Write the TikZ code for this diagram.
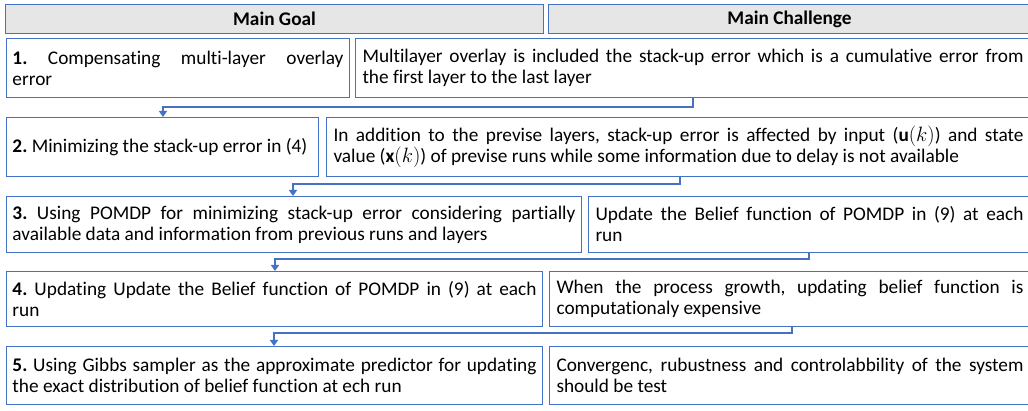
\documentclass[tikz,border=0pt]{standalone}
\usepackage{fontspec}
\setmainfont{Carlito}[Ligatures=NoCommon]
\usetikzlibrary{arrows.meta}
\definecolor{bdr}{RGB}{68,114,196}
\definecolor{hdr}{RGB}{231,230,230}
\hyphenpenalty=10000
\exhyphenpenalty=10000
\tolerance=10000
\frenchspacing
\begin{document}
\begin{tikzpicture}[x=1pt,y=-1pt,
  box/.style={draw=bdr, line width=1pt, anchor=north west, inner ysep=0pt, align=justify,
    font=\fontsize{19.3}{21}\selectfont\frenchspacing},
  lbox/.style={box, inner xsep=6pt},
  rbox/.style={box, inner xsep=7pt},
  hbox/.style={draw=bdr, line width=1pt, fill=hdr, anchor=north west, inner sep=0pt,
    font=\fontsize{19.3}{21}\selectfont\bfseries},
  conn/.style={draw=bdr, line width=2pt, -{Triangle[length=6pt,width=8pt]}}]
\useasboundingbox (0,0) rectangle (1028,411);
\clip (0,0) rectangle (1028,411);
% headers
\node[hbox, minimum width=538pt, minimum height=29pt] (h1) at (5,4) {Main Goal};
\node[hbox, minimum width=482pt, minimum height=29pt] (h2) at (548,4) {Main Challenge};
% row 1
\node[lbox, minimum width=343pt, minimum height=59pt, text width=331pt] (l1) at (6,38)
  {\textbf{1.} Compensating multi-layer overlay\linebreak error};
\node[rbox, minimum width=675pt, minimum height=59pt, text width=661pt] (r1) at (355,38)
  {Multilayer overlay is included the stack-up error which is a cumulative error from\linebreak the first layer to the last layer};
% row 2
\node[lbox, minimum width=312pt, minimum height=59pt, text width=300pt] (l2) at (6,117)
  {\textbf{2.} Minimizing the stack-up error in (4)};
\node[rbox, minimum width=704pt, minimum height=59pt, text width=690pt] (r2) at (326,117)
  {In addition to the previse layers, stack-up error is affected by input ($\mathbf{u}(k)$) and state\linebreak value ($\mathbf{x}(k)$) of previse runs while some information due to delay is not available};
% row 3
\node[lbox, minimum width=575pt, minimum height=56pt, text width=563pt] (l3) at (6,196)
  {\textbf{3.} Using POMDP for minimizing stack-up error considering partially\linebreak available data and information from previous runs and layers};
\node[rbox, minimum width=442pt, minimum height=56pt, text width=428pt] (r3) at (588,196)
  {Update the Belief function of POMDP in (9) at each\linebreak run};
% row 4
\node[lbox, minimum width=536pt, minimum height=55pt, text width=524pt] (l4) at (6,271)
  {\textbf{4.} Updating Update the Belief function of POMDP in (9) at each\linebreak run};
\node[rbox, minimum width=481pt, minimum height=55pt, text width=467pt] (r4) at (549,271)
  {When the process growth, updating belief function is\linebreak computationaly expensive};
% row 5
\node[lbox, minimum width=536pt, minimum height=58pt, text width=524pt] (l5) at (6,346)
  {\textbf{5.} Using Gibbs sampler as the approximate predictor for updating\linebreak the exact distribution of belief function at ech run};
\node[rbox, minimum width=481pt, minimum height=58pt, text width=467pt] (r5) at (549,346)
  {Convergenc, rubustness and controlabbility of the system\linebreak should be test};
% connectors
\coordinate (t1) at (693,107); \coordinate (b1) at (163,107);
\coordinate (t2) at (680,184); \coordinate (b2) at (293,184);
\coordinate (t3) at (809,259); \coordinate (b3) at (275,259);
\coordinate (t4) at (792,333); \coordinate (b4) at (274,333);
\draw[conn] (r1.south -| t1) -- (t1) -- (b1) -- (l2.north -| b1);
\draw[conn] (r2.south -| t2) -- (t2) -- (b2) -- (l3.north -| b2);
\draw[conn] (r3.south -| t3) -- (t3) -- (b3) -- (l4.north -| b3);
\draw[conn] (r4.south -| t4) -- (t4) -- (b4) -- (l5.north -| b4);
\end{tikzpicture}
\end{document}
